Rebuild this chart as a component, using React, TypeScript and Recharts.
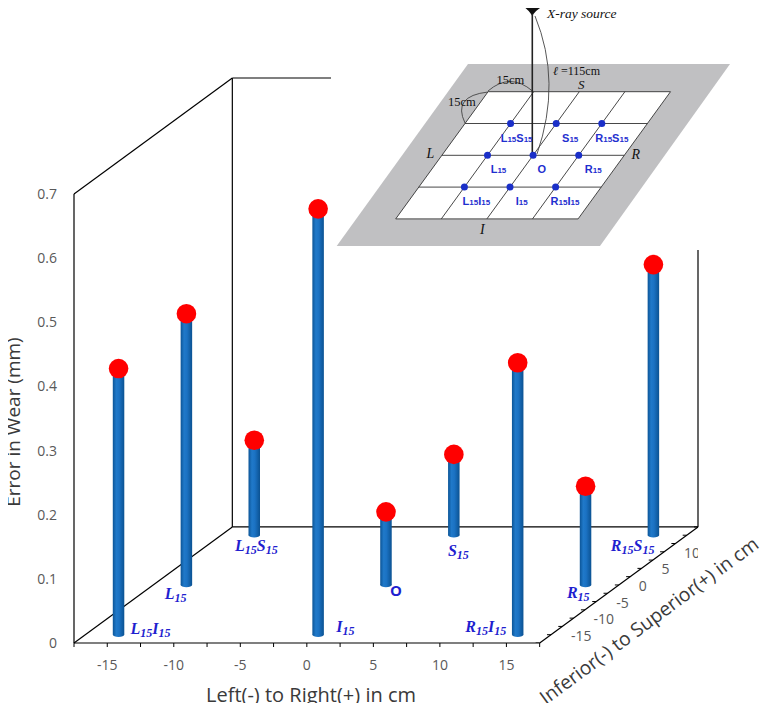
import React from 'react';
import { ComposedChart, XAxis, YAxis, Bar, Scatter, ReferenceLine } from 'recharts';

// ---------- data ----------
const POINT_NAMES = ['L15I15', 'L15', 'L15S15', 'I15', 'O', 'S15', 'R15I15', 'R15', 'R15S15'];
const LEFT_RIGHT_CM = [-15, -15, -15, 0, 0, 0, 15, 15, 15];
const INFERIOR_SUPERIOR_CM = [-15, 0, 15, -15, 0, 15, -15, 0, 15];
const WEAR_ERROR_MM = [0.415, 0.423, 0.148, 0.664, 0.114, 0.126, 0.424, 0.154, 0.422];

const X_TICKS = [-17.5, -15, -12.5, -10, -7.5, -5, -2.5, 0, 2.5, 5, 7.5, 10, 12.5, 15, 17.5];
const Z_TICKS = [-17.5, -15, -12.5, -10, -7.5, -5, -2.5, 0, 2.5, 5, 7.5, 10, 12.5, 15, 17.5];
const Y_TICKS = [0, 0.1, 0.2, 0.3, 0.4, 0.5, 0.6, 0.7];

// ---------- oblique projection (in data units) ----------
const HALF_SPAN = 17.5;
const Y_TOP = 0.7;
const DEPTH_DX = 11.9;
const DEPTH_DY = 0.181;

const project = (x: number, z: number, y: number) => {
  const t = (z + HALF_SPAN) / (2 * HALF_SPAN);
  return { px: x + t * DEPTH_DX, py: y + t * DEPTH_DY };
};

const barData = POINT_NAMES.map((name, i) => {
  const b = project(LEFT_RIGHT_CM[i], INFERIOR_SUPERIOR_CM[i], 0);
  const t = project(LEFT_RIGHT_CM[i], INFERIOR_SUPERIOR_CM[i], WEAR_ERROR_MM[i]);
  return { name, px: b.px, range: [b.py, t.py] };
});
const topData = POINT_NAMES.map((name, i) => ({
  name,
  ...project(LEFT_RIGHT_CM[i], INFERIOR_SUPERIOR_CM[i], WEAR_ERROR_MM[i]),
}));
const baseData = POINT_NAMES.map((name, i) => ({
  name,
  idx: i,
  ...project(LEFT_RIGHT_CM[i], INFERIOR_SUPERIOR_CM[i], 0),
}));
const zTickData = Z_TICKS.map((z) => ({ z, ...project(HALF_SPAN, z, 0) }));

const P = (x: number, z: number, y: number) => {
  const p = project(x, z, y);
  return { x: p.px, y: p.py };
};
const H = HALF_SPAN;
const FRAME = [
  [P(-H, -H, 0), P(H, -H, 0)],
  [P(-H, -H, 0), P(-H, -H, Y_TOP)],
  [P(-H, -H, 0), P(-H, H, 0)],
  [P(-H, -H, Y_TOP), P(-H, H, Y_TOP)],
  [P(-H, H, 0), P(-H, H, Y_TOP)],
  [P(-H, H, Y_TOP), P(H, H, Y_TOP)],
  [P(-H, H, 0), P(H, H, 0)],
  [P(H, H, 0), P(H, H, Y_TOP)],
  [P(H, -H, 0), P(H, H, 0)],
];

// label placement (pixels relative to bar base) – styling only
const LABEL_ANCHOR = ['start', 'end', 'middle', 'start', 'start', 'middle', 'end', 'end', 'end'];
const LABEL_DX = [12, 0, 2, 18, 4, 4.5, -11.5, 4, 1];
const LABEL_DY = [-1, 14, 16, -3, 11, 21, -3, 13, 16];

const SANS = '"Open Sans", "Noto Sans", sans-serif';
const SERIF = '"Liberation Serif", "DejaVu Serif", serif';
const LABEL_BLUE = '#1f1fcf';
const BAR_WIDTH = 11.5;

const Cylinder = (props: any) => {
  const { x, y, width, height } = props;
  if (height == null || x == null) return null;
  const cx = x + (width || 0) / 2;
  const left = cx - BAR_WIDTH / 2;
  return (
    <g>
      <rect x={left} y={y} width={BAR_WIDTH} height={height} fill="url(#cylGrad)" />
      <ellipse cx={cx} cy={y + height} rx={BAR_WIDTH / 2} ry={2.2} fill="url(#cylGrad)" />
    </g>
  );
};

const TopDot = (props: any) => <circle cx={props.cx} cy={props.cy} r={9.8} fill="#ff0000" />;

const PointLabel = (props: any) => {
  const { cx, cy, payload } = props;
  const i = payload.idx;
  const parts = Array.from((payload.name as string).matchAll(/([A-Z])(\d*)/g));
  const x = cx + LABEL_DX[i];
  const y = cy + LABEL_DY[i];
  if (payload.name === 'O') {
    return (
      <text x={x} y={y} textAnchor={LABEL_ANCHOR[i] as any} fill={LABEL_BLUE} fontFamily={SANS} fontWeight="bold" fontSize={15}>
        O
      </text>
    );
  }
  const kids: any[] = [];
  parts.forEach((m, k) => {
    kids.push(
      <tspan key={'m' + k} dy={k === 0 ? 0 : -3}>
        {m[1]}
      </tspan>
    );
    kids.push(
      <tspan key={'s' + k} fontSize={12} dy={3}>
        {m[2]}
      </tspan>
    );
  });
  return (
    <text x={x} y={y} textAnchor={LABEL_ANCHOR[i] as any} fill={LABEL_BLUE} fontFamily={SERIF} fontStyle="italic" fontWeight="bold" fontSize={16}>
      {kids}
    </text>
  );
};

const ZTick = (props: any) => {
  const { cx, cy, payload } = props;
  const v = payload.z;
  const show = Math.abs(v) <= 15 && v % 5 === 0;
  return (
    <g>
      <line x1={cx - 4} y1={cy} x2={cx} y2={cy} stroke="#000" strokeWidth={1} />
      {show && (
        <text x={cx + 20} y={cy + 6} fill="#595959" fontFamily={SANS} fontSize={14}>
          {v}
        </text>
      )}
    </g>
  );
};

const XTick = (props: any) => {
  const { x, y, payload } = props;
  const v = payload.value;
  if (Math.abs(v) > 15 || v % 5 !== 0) return <g />;
  return (
    <text x={x} y={y + 21} textAnchor="middle" fill="#595959" fontFamily={SANS} fontSize={14}>
      {v}
    </text>
  );
};

// ---------- inset schematic ----------
const INSET_NAMES = [
  ['L15S15', 'S15', 'R15S15'],
  ['L15', 'O', 'R15'],
  ['L15I15', 'I15', 'R15I15'],
];
const INSET_DX = [
  [6, 14, 10],
  [11, 8.6, 14.6],
  [12, 11.7, 9.4],
];

const InsetLabel = ({ x, y, name }: { x: number; y: number; name: string }) => {
  const parts = Array.from(name.matchAll(/([A-Z])(\d*)/g));
  return (
    <text x={x} y={y} textAnchor="middle" fill="#1f2fcf" fontFamily='"Liberation Sans", Arial, sans-serif' fontWeight="bold" fontSize={11}>
      {parts.map((m, k) => (
        <React.Fragment key={k}>
          <tspan>{m[1]}</tspan>
          {m[2] && <tspan fontSize={8}>{m[2]}</tspan>}
        </React.Fragment>
      ))}
    </text>
  );
};

const Overlay = () => {
  const gx = (r: number, c: number) => 395.7 + 45.6 * c + 23.1 * (4 - r);
  const gy = (r: number) => 91.7 + 31.8 * r;
  const lines: any[] = [];
  for (let r = 0; r <= 4; r++) lines.push(<line key={'h' + r} x1={gx(r, 0)} y1={gy(r)} x2={gx(r, 4)} y2={gy(r)} stroke="#333" strokeWidth={0.9} />);
  for (let c = 0; c <= 4; c++) lines.push(<line key={'v' + c} x1={gx(0, c)} y1={gy(0)} x2={gx(4, c)} y2={gy(4)} stroke="#333" strokeWidth={0.9} />);
  const dots: any[] = [];
  const labels: any[] = [];
  for (let r = 1; r <= 3; r++)
    for (let c = 1; c <= 3; c++) {
      dots.push(<circle key={'d' + r + c} cx={gx(r, c)} cy={gy(r)} r={3.5} fill="#1a2fc8" />);
      labels.push(<InsetLabel key={'l' + r + c} x={gx(r, c) + INSET_DX[r - 1][c - 1]} y={gy(r) + 18} name={INSET_NAMES[r - 1][c - 1]} />);
    }
  return (
    <svg width={770} height={711} style={{ position: 'absolute', left: -8, top: -8, pointerEvents: 'none', overflow: 'visible' }}>
      <rect x={331} y={0} width={439} height={250} fill="#fff" />
      <polygon points="468,64 730,64 600,246 336.7,246" fill="#c0c0c2" />
      <polygon points={`${gx(0, 0)},${gy(0)} ${gx(0, 4)},${gy(0)} ${gx(4, 4)},${gy(4)} ${gx(4, 0)},${gy(4)}`} fill="#fff" />
      {lines}
      {/* 15cm arcs */}
      <path d="M488,91 Q510,72 532.5,91" fill="none" stroke="#444" strokeWidth={0.9} />
      <path d="M488,92 Q452,96 465,123" fill="none" stroke="#444" strokeWidth={0.9} />
      {/* source, beam and distance arc */}
      <path d="M520,0 H547 V5 Q539,7 533.5,14 L532.3,16 L531,14 Q526,7 520,5 Z" fill="#111" />
      <line x1={532.3} y1={14} x2={532.3} y2={155} stroke="#222" strokeWidth={1.6} />
      <path d="M535,16 Q562,82 537,154" fill="none" stroke="#444" strokeWidth={0.9} />
      {dots}
      {labels}
      <text x={547} y={18} fontFamily={SERIF} fontStyle="italic" fontSize={13.5} fill="#111">X-ray source</text>
      <text x={553} y={75} fontFamily={SERIF} fontSize={12} fill="#111">
        <tspan fontStyle="italic">ℓ</tspan> =115cm
      </text>
      <text x={578} y={89} fontFamily={SERIF} fontStyle="italic" fontSize={13} fill="#111">S</text>
      <text x={496.5} y={84} fontFamily={SERIF} fontSize={12.5} fill="#111">15cm</text>
      <text x={448} y={106} fontFamily={SERIF} fontSize={12.5} fill="#111">15cm</text>
      <text x={426.5} y={158} fontFamily={SERIF} fontStyle="italic" fontSize={14} fill="#111">L</text>
      <text x={631.5} y={159} fontFamily={SERIF} fontStyle="italic" fontSize={14} fill="#111">R</text>
      <text x={480} y={234} fontFamily={SERIF} fontStyle="italic" fontSize={14} fill="#111">I</text>

      {/* axis titles */}
      <text x={311} y={702} textAnchor="middle" fontFamily={SANS} fontSize={20} fill="#3a3a3a">Left(-) to Right(+) in cm</text>
      <text x={20} y={422} textAnchor="middle" transform="rotate(-90 20 422)" fontFamily={SANS} fontSize={19} fill="#3a3a3a">Error in Wear (mm)</text>
      <text x={653} y={626} textAnchor="middle" transform="rotate(-36.5 653 626)" fontFamily={SANS} fontSize={19.3} fill="#3a3a3a">Inferior(-) to Superior(+) in cm</text>
    </svg>
  );
};

export default function App() {
  return (
    <div style={{ position: 'relative', width: 754, height: 695 }}>
      <ComposedChart width={754} height={695} data={barData} margin={{ top: 70, right: 64, bottom: 30, left: 0 }}>
        <defs>
          <linearGradient id="cylGrad" x1="0" y1="0" x2="1" y2="0">
            <stop offset="0%" stopColor="#0c5597" />
            <stop offset="30%" stopColor="#2079c9" />
            <stop offset="55%" stopColor="#1b72c3" />
            <stop offset="100%" stopColor="#0b5292" />
          </linearGradient>
        </defs>
        <XAxis
          type="number"
          dataKey="px"
          domain={[-HALF_SPAN, HALF_SPAN + DEPTH_DX]}
          allowDataOverflow
          ticks={X_TICKS}
          interval={0}
          axisLine={false}
          tickLine={{ stroke: '#000' }}
          tickSize={4}
          tickMargin={2}
          height={30}
          tick={<XTick />}
        />
        <YAxis
          type="number"
          domain={[0, Y_TOP + DEPTH_DY]}
          allowDataOverflow
          ticks={Y_TICKS}
          interval={0}
          width={66}
          axisLine={false}
          tickLine={false}
          tickMargin={11}
          tick={{ fill: '#595959', fontSize: 14, fontFamily: SANS }}
        />
        {FRAME.map((seg, k) => (
          <ReferenceLine key={k} segment={seg as any} stroke="#000" strokeWidth={1.2} ifOverflow="visible" zIndex={50} />
        ))}
        <Scatter data={zTickData} dataKey="py" shape={<ZTick />} isAnimationActive={false} zIndex={60} />
        <Bar dataKey="range" barSize={BAR_WIDTH} shape={<Cylinder />} isAnimationActive={false} zIndex={300} />
        <Scatter data={topData} dataKey="py" shape={<TopDot />} isAnimationActive={false} zIndex={600} />
        <Scatter data={baseData} dataKey="py" shape={<PointLabel />} isAnimationActive={false} zIndex={700} />
      </ComposedChart>
      <Overlay />
    </div>
  );
}
